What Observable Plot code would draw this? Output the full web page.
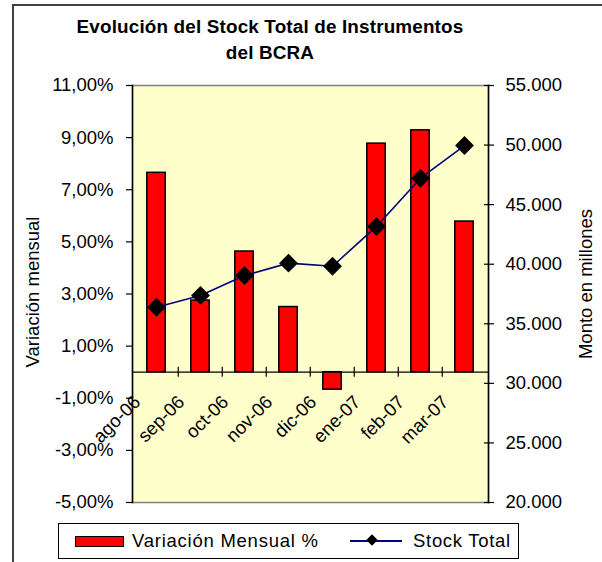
<!DOCTYPE html>
<html>
<head>
<meta charset="utf-8">
<script src="https://cdn.jsdelivr.net/npm/d3@7"></script>
<script src="https://cdn.jsdelivr.net/npm/@observablehq/plot@0.6"></script>
<style>
  html, body { margin: 0; padding: 0; background: #fff; }
  #wrap { position: relative; width: 602px; height: 562px; overflow: hidden; font-family: "Liberation Sans", Arial, sans-serif; color: #000; }
  #border { position: absolute; left: 12px; top: 4px; width: 600px; height: 600px; border-left: 2px solid #404040; border-top: 2px solid #404040; }
  #title { position: absolute; left: 70px; width: 400px; top: 14px; text-align: center; font-weight: bold; font-size: 18.9px; line-height: 26px; letter-spacing: 0.15px; }
  #legend { position: absolute; left: 58px; top: 523px; width: 461px; height: 36px; border: 1px solid #000; box-sizing: border-box; font-size: 18.5px; }
  #legend .sw { position: absolute; left: 16px; top: 12px; width: 47px; height: 9px; background: #ff0000; border: 1.5px solid #000; }
  #legend .t1 { position: absolute; left: 73px; top: 6px; letter-spacing: 0.75px; }
  #legend .ln { position: absolute; left: 291px; top: 16px; width: 52px; height: 1.5px; background: #000080; }
  #legend .dm { position: absolute; left: 309px; top: 11.5px; width: 8px; height: 8px; background: #000; transform: rotate(45deg); }
  #legend .t2 { position: absolute; left: 354px; top: 6px; letter-spacing: 0.7px; }
  svg { position: absolute; left: 0; top: 0; }
</style>
</head>
<body>
<div id="wrap">
  <div id="border"></div>
  <div id="title">Evolución del Stock Total de Instrumentos<br>del BCRA</div>
  <div id="chart"></div>
  <div id="legend">
    <div class="sw"></div><span class="t1">Variación Mensual %</span>
    <div class="ln"></div><div class="dm"></div><span class="t2">Stock Total</span>
  </div>
</div>
<script>
const months = ["ago-06","sep-06","oct-06","nov-06","dic-06","ene-07","feb-07","mar-07"];
const variacion = [7.65, 2.75, 4.63, 2.50, -0.67, 8.77, 9.28, 5.78];
const stock = [36390, 37380, 39050, 40090, 39830, 43170, 47220, 49960];
const leftTicks = [-5, -3, -1, 1, 3, 5, 7, 9, 11];
const rightTicks = [20000, 25000, 30000, 35000, 40000, 45000, 50000, 55000];
const leftTitle = "Variación mensual";
const rightTitle = "Monto en millones";

const data = months.map((m, i) => ({month: m, pct: variacion[i], stock: stock[i]}));

const locale = d3.formatLocale({decimal: ",", thousands: ".", grouping: [3], currency: ["", ""], minus: "-"});
const fmtPct = v => locale.format(".2f")(v) + "%";
const fmtNum = locale.format(",.0f");

// secondary axis mapped onto primary (percent) scale
const toLeft = d3.scaleLinear([20000, 55000], [-5, 11]);
const rightMapped = rightTicks.map(toLeft);

const FS = 18.5;
const step = 356 / months.length;

const chart = Plot.plot({
  width: 602,
  height: 562,
  marginLeft: 132,
  marginRight: 114,
  marginTop: 85,
  marginBottom: 60,
  style: {fontFamily: "'Liberation Sans', Arial, sans-serif", fontSize: FS + "px", color: "#000", background: "transparent"},
  x: {type: "band", domain: months, padding: 0, axis: null},
  y: {domain: [-5, 11]},
  marks: [
    Plot.frame({fill: "#FFFFCC", stroke: "#808080", strokeWidth: 1.5}),
    Plot.frame({anchor: "left", stroke: "#000", strokeWidth: 1.5}),
    Plot.frame({anchor: "right", stroke: "#000", strokeWidth: 1.5}),
    Plot.axisY(leftTicks, {anchor: "left", tickFormat: fmtPct, tickSize: 6, tickPadding: 13, fontSize: FS, label: null, strokeWidth: 1.2}),
    Plot.axisY(rightMapped, {anchor: "right", tickSize: 10, dx: -5, tickFormat: () => "", label: null, strokeWidth: 1.2}),
    Plot.axisY(rightMapped, {anchor: "right", tickSize: 0, tickPadding: 17, fontSize: FS, label: null, tickFormat: d => fmtNum(Math.round(toLeft.invert(d)))}),
    Plot.barY(data, {x: "month", y: "pct", fill: "#ff0000", stroke: "#000", strokeWidth: 1.5, insetLeft: 12.8, insetRight: 12.8}),
    Plot.ruleY([0], {stroke: "#000", strokeWidth: 1.2}),
    Plot.ruleX(months.slice(1), {x: d => d, y1: -0.19, y2: 0.19, dx: -step / 2, stroke: "#000", strokeWidth: 1.2}),
    Plot.line(data, {x: "month", y: d => toLeft(d.stock), stroke: "#000080", strokeWidth: 1.6}),
    Plot.dot(data, {x: "month", y: d => toLeft(d.stock), symbol: "diamond2", r: 8.5, fill: "#000", stroke: "none"}),
    Plot.text(months, {x: d => d, y: () => 0, text: d => d, rotate: -45, textAnchor: "end", lineAnchor: "bottom", dx: -15, dy: 31, fontSize: FS}),
    Plot.text([leftTitle], {frameAnchor: "left", textAnchor: "middle", dx: -99, dy: -2, rotate: -90, fontSize: FS}),
    Plot.text([rightTitle], {frameAnchor: "right", textAnchor: "middle", dx: 98, dy: -10, rotate: -90, fontSize: FS})
  ]
});
document.getElementById("chart").appendChild(chart);
</script>
</body>
</html>
